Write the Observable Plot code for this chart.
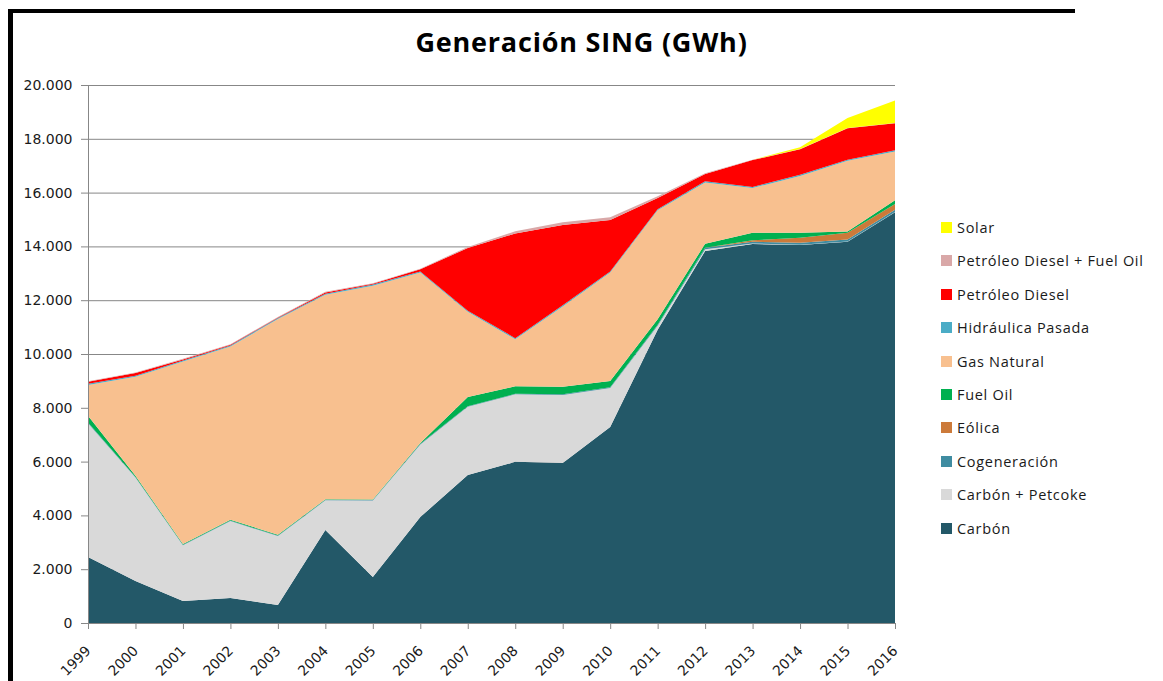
<!DOCTYPE html>
<html>
<head>
<meta charset="utf-8">
<script src="https://cdn.jsdelivr.net/npm/d3@7"></script>
<script src="https://cdn.jsdelivr.net/npm/@observablehq/plot@0.6"></script>
<style>
  html, body { margin: 0; padding: 0; background: #fff; }
  #wrap { position: relative; width: 1163px; height: 681px; overflow: hidden; background: #fff; }
  #frameTop { position: absolute; left: 8px; top: 9px; width: 1067px; height: 4px; background: #000; }
  #frameLeft { position: absolute; left: 8px; top: 9px; width: 5px; height: 680px; background: #000; }
  #title { position: absolute; left: 0; width: 1163px; top: 23px; text-align: center;
           font-family: "Open Sans", sans-serif; font-weight: 700; font-size: 27px; letter-spacing: 0.8px; color: #000; }
  #legend { position: absolute; left: 941px; top: 218px; font-family: "Open Sans", sans-serif; font-size: 14.5px; letter-spacing: 0.7px; color: #1a1a1a; }
  .lg { position: relative; height: 33.4px; display: flex; align-items: flex-start; }
  .sw { width: 11px; height: 11px; margin-top: 4px; margin-right: 5px; flex: none; }
  .lg span { white-space: nowrap; line-height: 19px; }
  #chart { position: absolute; left: 0; top: 0; }
</style>
</head>
<body>
<div id="wrap">
  <div id="chart"></div>
  <div id="frameTop"></div>
  <div id="frameLeft"></div>
  <div id="title"></div>
  <div id="legend"></div>
</div>
<script>
// ---- Data (GWh) ----
const years = [1999, 2000, 2001, 2002, 2003, 2004, 2005, 2006, 2007, 2008, 2009, 2010, 2011, 2012, 2013, 2014, 2015, 2016];

const carbon        = [2450, 1560, 820, 930, 670, 3460, 1710, 3940, 5500, 5990, 5950, 7290, 10900, 13830, 14090, 14050, 14170, 15270];
const carbonPetcoke = [4980, 3850, 2070, 2860, 2560, 1100, 2840, 2700, 2540, 2510, 2530, 1450, 150, 60, 20, 10, 10, 10];
const cogeneracion  = [20, 20, 20, 20, 20, 20, 20, 20, 20, 20, 20, 20, 40, 60, 60, 80, 80, 80];
const eolica        = [0, 0, 0, 0, 0, 0, 0, 0, 0, 0, 0, 0, 0, 0, 60, 180, 250, 220];
const fuelOil       = [250, 40, 30, 30, 30, 20, 20, 30, 340, 280, 280, 240, 200, 150, 280, 190, 40, 140];
const gasNatural    = [1150, 3680, 6780, 6440, 8020, 7600, 7950, 6340, 3170, 1750, 2990, 4030, 4050, 2280, 1660, 2110, 2630, 1810];
const hidraulica    = [40, 40, 40, 40, 40, 40, 40, 40, 40, 40, 40, 40, 40, 40, 40, 40, 40, 40];
const diesel        = [80, 100, 40, 20, 20, 50, 30, 80, 2330, 3890, 2990, 1910, 420, 270, 1000, 950, 1170, 1010];
const dieselFuelOil = [20, 20, 20, 20, 20, 20, 20, 20, 40, 80, 100, 100, 60, 30, 10, 10, 10, 10];
const solar         = [0, 0, 0, 0, 0, 0, 0, 0, 0, 0, 0, 0, 0, 0, 0, 70, 370, 830];

// stacking order: bottom to top
const seriesNames = ["Carbón", "Carbón + Petcoke", "Cogeneración", "Eólica", "Fuel Oil", "Gas Natural",
                     "Hidráulica Pasada", "Petróleo Diesel", "Petróleo Diesel + Fuel Oil", "Solar"];
const seriesValues = [carbon, carbonPetcoke, cogeneracion, eolica, fuelOil, gasNatural,
                      hidraulica, diesel, dieselFuelOil, solar];
const seriesColors = ["#235868", "#d9d9d9", "#3f8ca1", "#cc7a3a", "#00b050", "#f8c08f",
                      "#4bacc6", "#ff0000", "#d9a8a8", "#ffff00"];

const yTicks = [0, 2000, 4000, 6000, 8000, 10000, 12000, 14000, 16000, 18000, 20000];
const yTickLabels = ["0", "2.000", "4.000", "6.000", "8.000", "10.000", "12.000", "14.000", "16.000", "18.000", "20.000"];
const chartTitle = "Generación SING (GWh)";

// ---- Build table ----
const rows = [];
seriesNames.forEach((name, i) => {
  years.forEach((yr, j) => rows.push({year: yr, series: name, value: seriesValues[i][j]}));
});

const chart = Plot.plot({
  width: 1163,
  height: 681,
  marginLeft: 88,
  marginRight: 268,
  marginTop: 85,
  marginBottom: 58,
  x: {type: "linear", domain: [years[0], years[years.length - 1]]},
  y: {domain: [0, 20000]},
  color: {domain: seriesNames, range: seriesColors},
  style: {fontFamily: "DejaVu Sans, sans-serif", fontSize: "14px", color: "#1a1a1a", background: "transparent"},
  marks: [
    Plot.ruleY(yTicks.slice(1), {stroke: "#878787", strokeWidth: 1}),
    Plot.areaY(rows, Plot.stackY({x: "year", y: "value", fill: "series", order: seriesNames})),
    Plot.ruleX([years[0]], {stroke: "#878787"}),
    Plot.ruleY([0], {stroke: "#878787"}),
    Plot.axisY({ticks: yTicks, tickFormat: d => yTickLabels[yTicks.indexOf(d)], tickSize: 7, tickPadding: 9,
                stroke: "#878787", fill: "#1a1a1a", label: null}),
    // tick marks only
    Plot.axisX({ticks: years, tickFormat: null, text: null, tickSize: 6, stroke: "#878787", label: null}),
    // rotated year labels
    Plot.text(years, {x: d => d, y: () => 0, text: d => String(d), rotate: -45,
                      textAnchor: "end", lineAnchor: "middle", dx: 0, dy: 25, fill: "#1a1a1a", fontSize: 14})
  ]
});
document.getElementById("chart").appendChild(chart);
document.getElementById("title").textContent = chartTitle;

// legend (top to bottom = reverse of stacking)
const legend = document.getElementById("legend");
for (let i = seriesNames.length - 1; i >= 0; i--) {
  const row = document.createElement("div");
  row.className = "lg";
  const sw = document.createElement("div");
  sw.className = "sw";
  sw.style.background = seriesColors[i];
  const tx = document.createElement("span");
  tx.textContent = seriesNames[i];
  row.appendChild(sw);
  row.appendChild(tx);
  legend.appendChild(row);
}
</script>
</body>
</html>
